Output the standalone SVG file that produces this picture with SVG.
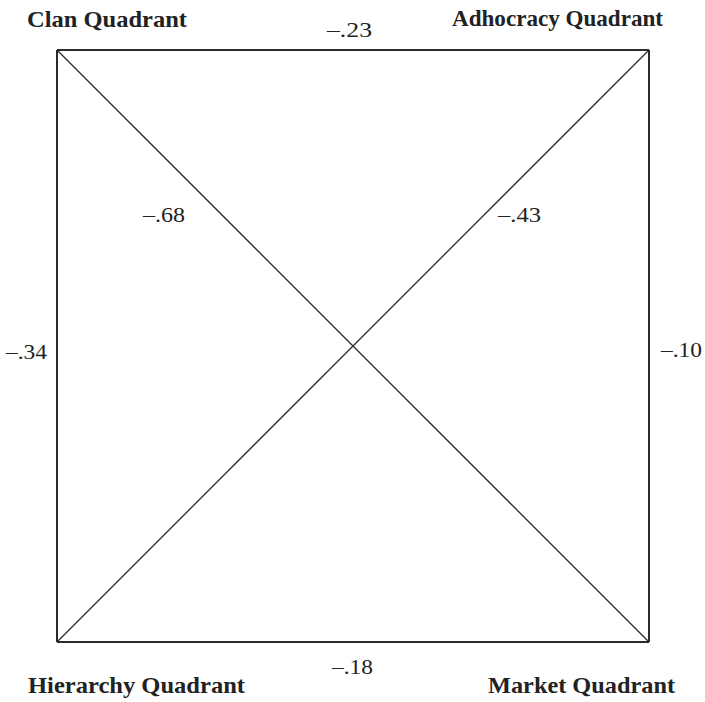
<svg xmlns="http://www.w3.org/2000/svg" width="705" height="702" viewBox="0 0 705 702">
<style>
.q{font-family:"Liberation Serif","Times New Roman",serif;font-weight:bold;font-size:23px;fill:#222}
.v{font-family:"Liberation Serif","Times New Roman",serif;font-size:22px;fill:#222}
.edge{stroke:#2a2a2a;fill:none}
.side{stroke-width:2}
.diag{stroke-width:1.3}
</style>
<rect width="705" height="702" fill="#fff"/>
<g id="clan"><text class="q" x="27" y="27" textLength="160" lengthAdjust="spacingAndGlyphs">Clan Quadrant</text></g>
<g id="adhocracy"><text class="q" x="452" y="26" textLength="211" lengthAdjust="spacingAndGlyphs">Adhocracy Quadrant</text></g>
<g id="hierarchy"><text class="q" x="28" y="693" textLength="217" lengthAdjust="spacingAndGlyphs">Hierarchy Quadrant</text></g>
<g id="market"><text class="q" x="488" y="693" textLength="187" lengthAdjust="spacingAndGlyphs">Market Quadrant</text></g>
<g id="connectors">
<line class="edge side" x1="57" y1="50" x2="649" y2="50"/>
<line class="edge side" x1="57" y1="642" x2="649" y2="642"/>
<line class="edge side" x1="57" y1="50" x2="57" y2="642"/>
<line class="edge side" x1="649" y1="50" x2="649" y2="642"/>
<line class="edge diag" x1="57" y1="50" x2="649" y2="642"/>
<line class="edge diag" x1="649" y1="50" x2="57" y2="642"/>
<text class="v" x="327" y="37" textLength="45" lengthAdjust="spacingAndGlyphs">–.23</text>
<text class="v" x="332" y="674" textLength="41" lengthAdjust="spacingAndGlyphs">–.18</text>
<text class="v" x="6" y="359" textLength="41" lengthAdjust="spacingAndGlyphs">–.34</text>
<text class="v" x="661" y="357" textLength="41" lengthAdjust="spacingAndGlyphs">–.10</text>
<text class="v" x="143" y="222" textLength="42" lengthAdjust="spacingAndGlyphs">–.68</text>
<text class="v" x="498" y="222" textLength="43" lengthAdjust="spacingAndGlyphs">–.43</text>
</g>
</svg>
